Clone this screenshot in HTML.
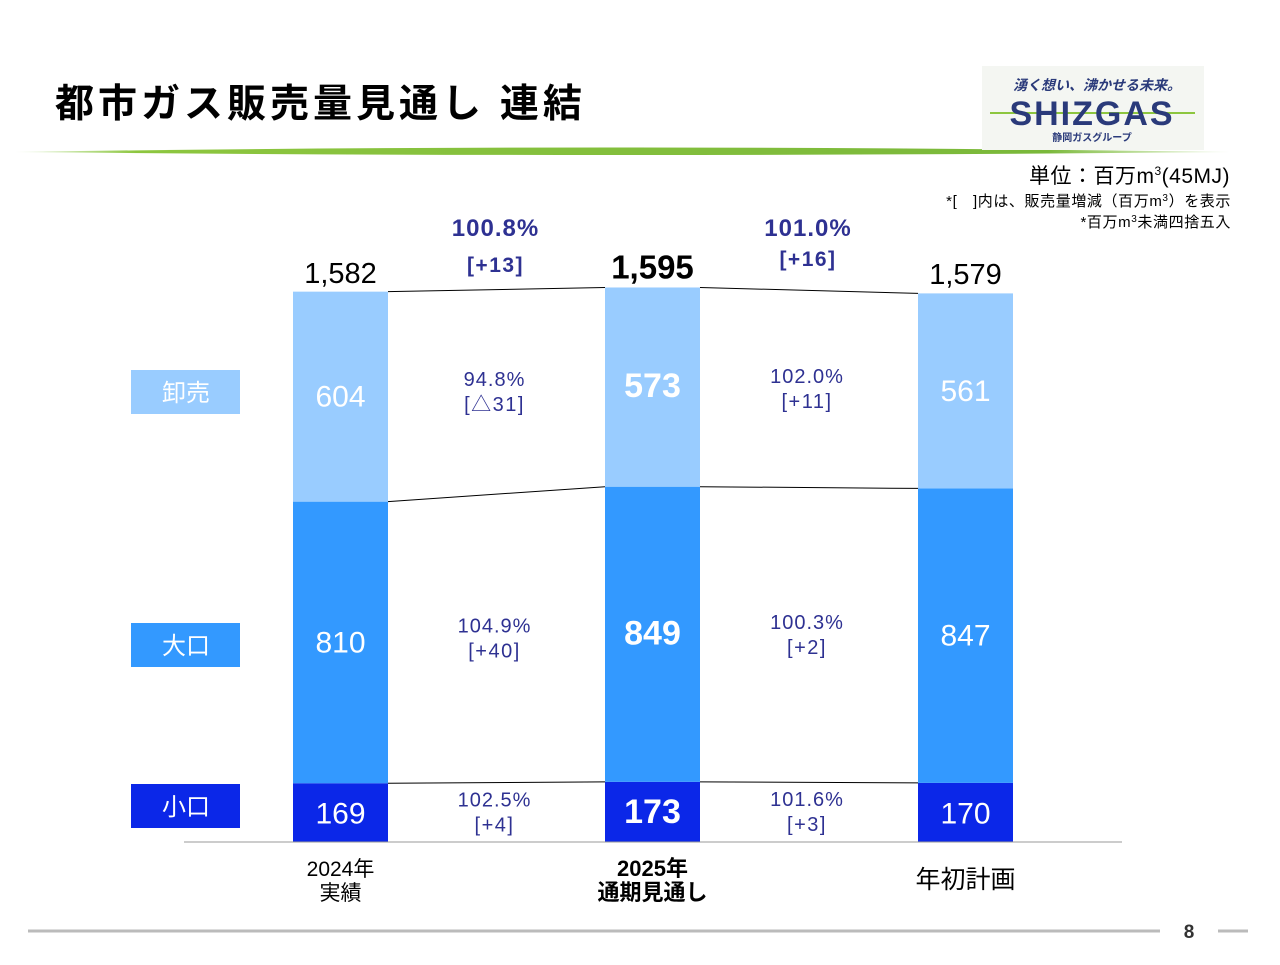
<!DOCTYPE html>
<html><head><meta charset="utf-8">
<style>
body{margin:0;width:1280px;height:960px;background:#fff;overflow:hidden;font-family:"Liberation Sans","Noto Sans CJK JP",sans-serif;}
svg text{font-family:"Liberation Sans","Noto Sans CJK JP",sans-serif;}
</style></head>
<body>
<svg id="c" width="1280" height="960" xmlns="http://www.w3.org/2000/svg">
<defs>
<linearGradient id="gl" x1="0" x2="1"><stop offset="0" stop-color="#9fd46a" stop-opacity="0.2"/><stop offset="0.1" stop-color="#8dc63f"/><stop offset="0.85" stop-color="#7ab83a"/><stop offset="1" stop-color="#b5dc8a" stop-opacity="0.3"/></linearGradient>
</defs>
<text x="55" y="117" font-size="39" font-weight="bold" fill="#000" letter-spacing="4">都市ガス販売量見通し 連結</text>
<path d="M15 152 Q600 143 1230 152 Q600 158 15 152 Z" fill="url(#gl)"/>
<g>
<rect x="982" y="66" width="222" height="84" fill="#f4f6f2"/>
<text x="1097" y="90" font-size="14" font-style="italic" font-weight="bold" fill="#2a3a7a" text-anchor="middle">湧く想い、沸かせる未来。</text>
<line x1="990" y1="113" x2="1195" y2="113" stroke="#8dc63f" stroke-width="2"/>
<text x="1092" y="125" font-size="34" font-weight="bold" fill="#2a3a7a" text-anchor="middle" letter-spacing="2">SHIZGAS</text>
<text x="1092" y="141" font-size="10" font-weight="bold" fill="#2a3a7a" text-anchor="middle">静岡ガスグループ</text>
</g>
<text x="1230" y="183" font-size="21" fill="#000" text-anchor="end" letter-spacing="0.5">単位：百万m<tspan font-size="12" dy="-8">3</tspan><tspan dy="8">(45MJ)</tspan></text>
<text x="1231" y="206" font-size="15" fill="#000" text-anchor="end" letter-spacing="0.6">*[　]内は、販売量増減（百万m<tspan font-size="10" dy="-5">3</tspan><tspan dy="5">）を表示</tspan></text>
<text x="1231" y="227" font-size="15" fill="#000" text-anchor="end" letter-spacing="0.6">*百万m<tspan font-size="10" dy="-5">3</tspan><tspan dy="5">未満四捨五入</tspan></text>
<g id="g"></g>
<line x1="184" y1="842" x2="1122" y2="842" stroke="#999" stroke-width="1"/>
<line x1="28" y1="931" x2="1160" y2="931" stroke="#bbb" stroke-width="3"/>
<line x1="1218" y1="931" x2="1248" y2="931" stroke="#bbb" stroke-width="3"/>
<text x="1189" y="938" font-size="19" font-weight="bold" fill="#333" text-anchor="middle">8</text>
</svg>
<script>
const categories=["2024年\n実績","2025年\n通期見通し","年初計画"];
const small=[169,173,170];
const large=[810,849,847];
const wholesale=[604,573,561];
const totals=[1582,1595,1579];
const segNames=["小口","大口","卸売"];
const totalPct=["100.8%","101.0%"];
const totalDiff=["[+13]","[+16]"];
const segPct=[["102.5%","104.9%","94.8%"],["101.6%","100.3%","102.0%"]];
const segDiff=[["[+4]","[+40]","[△31]"],["[+3]","[+2]","[+11]"]];

const NS="http://www.w3.org/2000/svg";
const g=document.getElementById('g');
const base=842, k=550/1582, bw=95;
const xs=[293,605,918];
const y=v=>base-v*k;
const colors=["#0b27e8","#3399ff","#99ccff"];
function mk(tag,at,txt){const e=document.createElementNS(NS,tag);for(const a in at)e.setAttribute(a,at[a]);if(txt!=null)e.textContent=txt;g.appendChild(e);return e;}
const series=[small,large,wholesale];
for(let i=0;i<3;i++){
 let cum=0;
 for(let s=0;s<3;s++){
  const v=series[s][i];
  const r=mk('rect',{x:xs[i],y:y(cum+v),width:bw,height:v*k,fill:colors[s]});
  
  
  const bold=i==1;
  const t=mk('text',{x:xs[i]+bw/2,y:y(cum+v/2)+(s==0?11:10),'font-size':bold?34:30,'font-weight':bold?'bold':'normal',fill:'#fff','text-anchor':'middle'},v);
  
  
  cum+=v;
 }
 const tt=mk('text',{x:xs[i]+bw/2,y:y(totals[i])-9,'font-size':i==1?33:29,'font-weight':i==1?'bold':'normal',fill:'#000','text-anchor':'middle'},totals[i].toLocaleString('en-US'));
 
 
 const lines=categories[i].split('\n');
 lines.forEach((l,j)=>{const c=mk('text',{x:xs[i]+bw/2,y:(lines.length==1?888:876+j*24),'font-size':lines.length==1?25:(i==1?22:21),'font-weight':i==1?'bold':'normal',fill:'#000','text-anchor':'middle'},l);
  
  });
}
for(let i=0;i<2;i++){
 let c0=0,c1=0;
 for(let s=0;s<3;s++){
  c0+=series[s][i];c1+=series[s][i+1];
  const l=mk('line',{x1:xs[i]+bw,y1:y(c0),x2:xs[i+1],y2:y(c1),stroke:'#000','stroke-width':1});
  
  
 }
 const cx=(xs[i]+bw+xs[i+1])/2-2;
 let a=0,b=0;
 for(let s=0;s<3;s++){
  const m=((y(a+series[s][i]/2))+(y(b+series[s][i+1]/2)))/2;
  a+=series[s][i];b+=series[s][i+1];
  const t1=mk('text',{x:cx,y:m-6,'font-size':20,fill:'#2e3192','text-anchor':'middle','letter-spacing':1},segPct[i][s]);
  
  
  const t2=mk('text',{x:cx,y:m+19,'font-size':20,fill:'#2e3192','text-anchor':'middle','letter-spacing':1.5},segDiff[i][s]);
  
  
 }
 const p=mk('text',{x:cx+1,y:236,'font-size':24,'font-weight':'bold',fill:'#2e3192','text-anchor':'middle','letter-spacing':1},totalPct[i]);
 
 
 const d=mk('text',{x:cx+1,y:i==0?272:266,'font-size':21,'font-weight':'bold',fill:'#2e3192','text-anchor':'middle','letter-spacing':1.5},totalDiff[i]);
 
 
}
const legY=[784,623,370];
for(let s=0;s<3;s++){
 const r=mk('rect',{x:131,y:legY[s],width:109,height:44,fill:colors[s]});
 
 
 const t=mk('text',{x:186,y:legY[s]+31,'font-size':24,fill:'#fff','text-anchor':'middle'},segNames[s]);
 
 
}
</script>
</body></html>
